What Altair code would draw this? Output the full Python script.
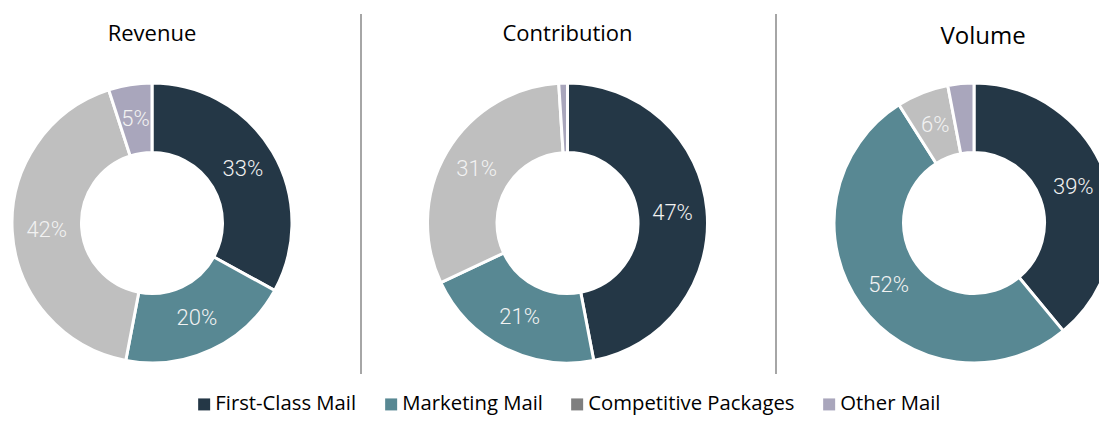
import altair as alt
import pandas as pd

categories = ["First-Class Mail", "Marketing Mail", "Competitive Packages", "Other Mail"]
metrics = ["Revenue", "Contribution", "Volume"]
revenue = [33, 20, 42, 5]
contribution = [47, 21, 31, 1]
volume = [39, 52, 6, 3]
label_min = 5

slice_colors = ["#243746", "#588893", "#BFBFBF", "#A9A6BC"]
legend_colors = ["#243746", "#588893", "#7F7F7F", "#A9A6BC"]

rows = []
for m, vals in zip(metrics, [revenue, contribution, volume]):
    for i, (c, v) in enumerate(zip(categories, vals)):
        rows.append(dict(metric=m, category=c, value=v, order=i,
                         label=f"{v}%" if v >= label_min else ""))
df = pd.DataFrame(rows)

# layout (pixels inside the view)
CENTERS_X = [139, 554.5, 961]
TITLES_X = [139, 554.5, 970]
CY = 209
TITLE_SIZE = [22, 22, 24]
TITLE_Y = [26.5, 26.5, 29.7]
SEP_X = [348, 763]
SEP_TOP, SEP_BOTTOM = 0, 360

color = alt.condition(
    alt.datum.category == "Competitive Packages",
    alt.value(slice_colors[2]),
    alt.Color(
        "category:N",
        scale=alt.Scale(domain=categories, range=legend_colors),
        legend=alt.Legend(
            title=None, orient="none", legendX=181, legendY=380,
            direction="horizontal", symbolType="square", symbolSize=144,
            symbolStrokeWidth=0, labelFont="Open Sans", labelFontSize=20.3,
            labelColor="black", columnPadding=24, labelOffset=1, labelLimit=0,
            padding=0,
        ),
    ),
)

layers = []
for metric, cx, tx, tsize, ty in zip(metrics, CENTERS_X, TITLES_X, TITLE_SIZE, TITLE_Y):
    base = alt.Chart(df).transform_filter(alt.datum.metric == metric).encode(
        theta=alt.Theta("value:Q", stack=True),
        order=alt.Order("order:Q"),
    )
    layers.append(base.mark_arc(innerRadius=70.5, outerRadius=140, stroke="white",
                                strokeWidth=3, clip=True).encode(
        color=color, x=alt.value(cx), y=alt.value(CY)))
    layers.append(base.mark_text(radius=105.5, font="Roboto", fontWeight=300,
                                 fontSize=22, color="#F2F2F2").encode(
        text="label:N", x=alt.value(cx), y=alt.value(CY)))
    layers.append(alt.Chart(pd.DataFrame({"t": [metric]})).mark_text(
        font="Open Sans", fontSize=tsize, baseline="alphabetic",
        color="black").encode(text="t:N", x=alt.value(tx), y=alt.value(ty)))

for sx in SEP_X:
    layers.append(alt.Chart(pd.DataFrame({"s": [0]})).mark_rule(
        color="#A6A6A6", strokeWidth=2).encode(
        x=alt.value(sx), y=alt.value(SEP_TOP), y2=alt.value(SEP_BOTTOM)))

chart = alt.layer(*layers).properties(
    width=1091, height=410,
    autosize=alt.AutoSizeParams(type="fit", contains="padding"),
    padding={"left": 5, "top": 5, "right": 0, "bottom": 0},
).configure_view(stroke=None)

chart.save("out.html", embed_options={"renderer": "svg", "actions": False})
